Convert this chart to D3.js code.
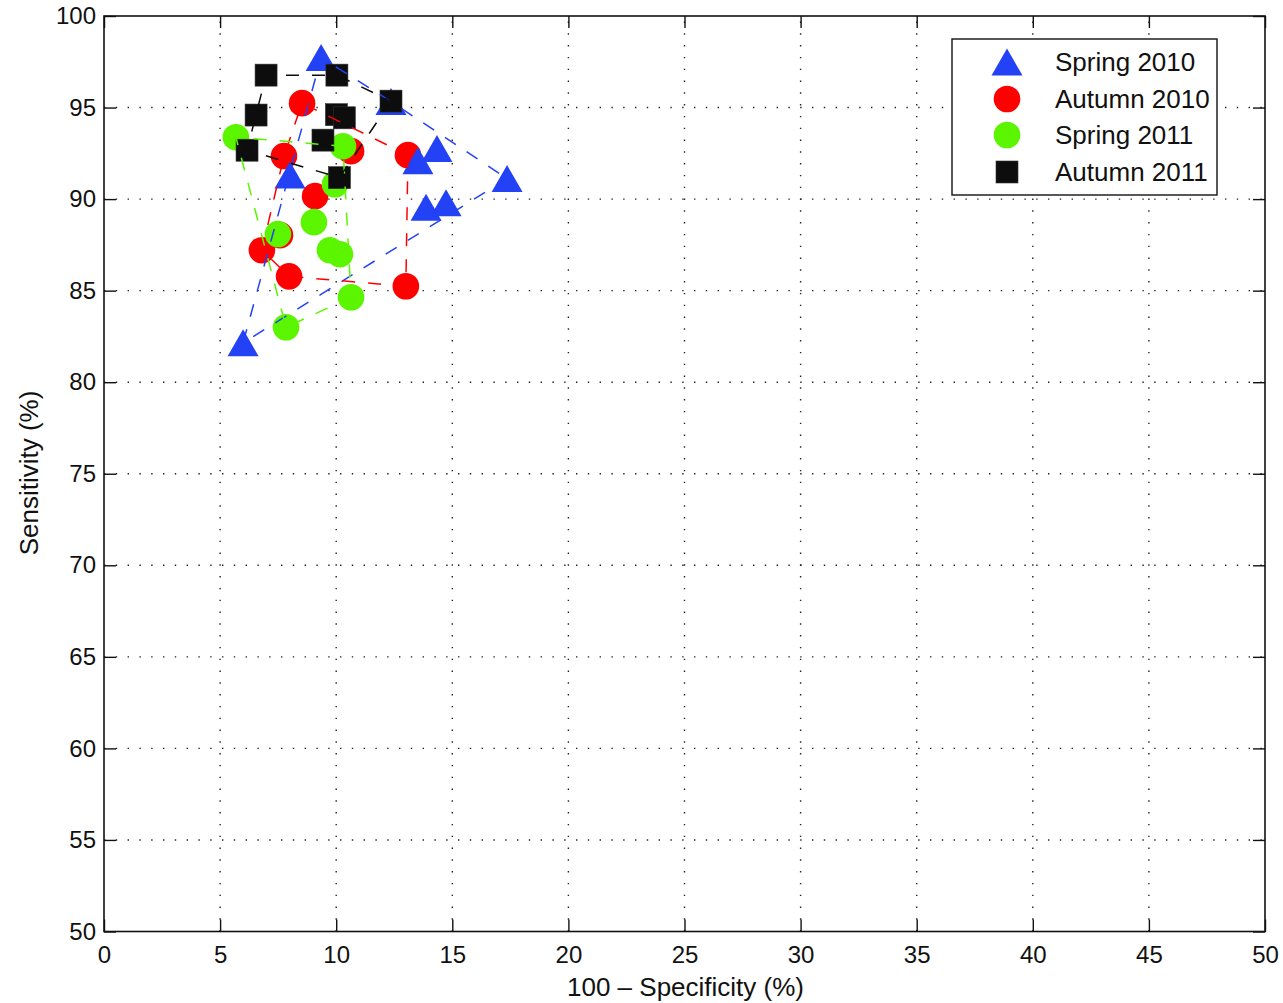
<!DOCTYPE html>
<html>
<head>
<meta charset="utf-8">
<script src="https://d3js.org/d3.v7.min.js"></script>
<style>
  body { margin: 0; background: #fff; }
  text { font-family: 'Liberation Sans', Arial, sans-serif; fill: #111; }
</style>
</head>
<body>
<div id="vis"></div>
<script>
  // series (x = 100 - specificity, y = sensitivity)
  var seriesNames = ['Spring 2010', 'Autumn 2010', 'Spring 2011', 'Autumn 2011'];

  var spring2010X = [9.35, 12.36, 14.34, 13.52, 17.36, 13.87, 14.73, 8.01, 5.99];
  var spring2010Y = [97.73, 95.33, 92.77, 92.1, 91.12, 89.56, 89.8, 91.31, 82.15];

  var autumn2010X = [8.53, 7.75, 10.64, 13.09, 9.09, 7.58, 6.8, 7.97, 13.0];
  var autumn2010Y = [95.24, 92.35, 92.62, 92.4, 90.16, 88.03, 87.21, 85.78, 85.24];

  var spring2011X = [5.68, 10.29, 9.95, 9.04, 7.49, 9.73, 10.16, 10.64, 7.84];
  var spring2011Y = [93.38, 92.89, 90.81, 88.74, 88.09, 87.21, 86.99, 84.64, 83.0];

  var autumn2011X = [6.98, 10.03, 12.36, 6.55, 10.01, 10.35, 9.43, 6.16, 10.14];
  var autumn2011Y = [96.77, 96.77, 95.35, 94.59, 94.61, 94.44, 93.22, 92.67, 91.17];

  var xTicks = [0, 5, 10, 15, 20, 25, 30, 35, 40, 45, 50];
  var yTicks = [50, 55, 60, 65, 70, 75, 80, 85, 90, 95, 100];

  var margin = { top: 16, right: 18, bottom: 71.5, left: 104 };
  var width = 1283 - margin.left - margin.right;
  var height = 1003 - margin.top - margin.bottom;

  var svg = d3.select('#vis')
    .append('svg')
    .attr('width', 1283)
    .attr('height', 1003)
    .append('g')
    .attr('transform', 'translate(' + margin.left + ',' + margin.top + ')');

  var x = d3.scaleLinear().domain([0, 50]).range([0, width]);
  var y = d3.scaleLinear().domain([50, 100]).range([height, 0]);

  // dotted grid
  svg.append('g')
    .selectAll('line')
    .data(xTicks.slice(1, -1))
    .enter().append('line')
    .attr('x1', d => x(d)).attr('x2', d => x(d))
    .attr('y1', height).attr('y2', 0)
    .attr('stroke', '#222').attr('stroke-width', 1.4)
    .attr('stroke-dasharray', '1.4,10.4');

  svg.append('g')
    .selectAll('line')
    .data(yTicks.slice(1, -1))
    .enter().append('line')
    .attr('y1', d => y(d)).attr('y2', d => y(d))
    .attr('x1', 0).attr('x2', width)
    .attr('stroke', '#222').attr('stroke-width', 1.4)
    .attr('stroke-dasharray', '1.4,10.4');

  // axes with inward ticks on all sides
  var tickLen = 12;
  var gx = svg.append('g')
    .attr('transform', 'translate(0,' + height + ')')
    .call(d3.axisBottom(x).tickValues(xTicks).tickSizeInner(-tickLen).tickSizeOuter(0));
  var gx2 = svg.append('g')
    .call(d3.axisTop(x).tickValues(xTicks).tickSizeInner(-tickLen).tickSizeOuter(0).tickFormat(''));
  var gy = svg.append('g')
    .call(d3.axisLeft(y).tickValues(yTicks).tickSizeInner(-tickLen).tickSizeOuter(0));
  var gy2 = svg.append('g')
    .attr('transform', 'translate(' + width + ',0)')
    .call(d3.axisRight(y).tickValues(yTicks).tickSizeInner(-tickLen).tickSizeOuter(0).tickFormat(''));

  [gx, gx2, gy, gy2].forEach(function(g) {
    g.select('.domain').remove();
    g.selectAll('.tick line').attr('stroke', '#111').attr('stroke-width', 1.4);
    g.selectAll('.tick text').style('font-size', '24px').attr('fill', '#111');
  });
  gx.selectAll('.tick text').attr('dy', '0.71em').attr('y', 14);
  gy.selectAll('.tick text').attr('x', -8);

  svg.append('rect')
    .attr('width', width).attr('height', height)
    .attr('fill', 'none').attr('stroke', '#111').attr('stroke-width', 1.6);

  // axis titles
  svg.append('text')
    .attr('x', width / 2 + 1)
    .attr('y', height + 64)
    .attr('text-anchor', 'middle')
    .style('font-size', '26px')
    .text('100 \u2013 Specificity (%)');

  svg.append('text')
    .attr('transform', 'rotate(-90)')
    .attr('x', -(473 - margin.top))
    .attr('y', 38 - margin.left)
    .attr('text-anchor', 'middle')
    .style('font-size', '26px')
    .text('Sensitivity (%)');

  var colors = ['#2342f5', '#ff0000', '#5cf500', '#0d0d0d'];
  var shapes = ['triangle', 'circle', 'circle', 'square'];
  var xs = [spring2010X, autumn2010X, spring2011X, autumn2011X];
  var ys = [spring2010Y, autumn2010Y, spring2011Y, autumn2011Y];

  function marker(g, shape, color) {
    if (shape === 'triangle') {
      g.append('path').attr('d', 'M0,-13.5L15.5,13.5L-15.5,13.5Z').attr('fill', color);
    } else if (shape === 'circle') {
      g.append('circle').attr('r', 13.3).attr('fill', color);
    } else {
      g.append('rect').attr('x', -11).attr('y', -11).attr('width', 22).attr('height', 22)
        .attr('fill', color).attr('stroke', '#333').attr('stroke-width', 0.6);
    }
  }

  // markers (red drawn beneath blue, matching overlap in the figure)
  var drawOrder = [1, 0, 2, 3];
  drawOrder.forEach(function(i) {
    var pts = xs[i].map(function(v, k) { return [v, ys[i][k]]; });
    svg.append('g').selectAll('g')
      .data(pts)
      .enter().append('g')
      .attr('transform', d => 'translate(' + x(d[0]) + ',' + y(d[1]) + ')')
      .each(function() { marker(d3.select(this), shapes[i], colors[i]); });
  });

  // dashed convex hulls
  var hullLine = d3.line().x(d => x(d[0])).y(d => y(d[1])).curve(d3.curveLinearClosed);
  [0, 1, 2, 3].forEach(function(i) {
    var pts = xs[i].map(function(v, k) { return [v, ys[i][k]]; });
    var hull = d3.polygonHull(pts);
    svg.append('path')
      .attr('d', hullLine(hull))
      .attr('fill', 'none')
      .attr('stroke', colors[i])
      .attr('stroke-width', 1.5)
      .attr('stroke-dasharray', '13,13');
  });

  // legend
  var lg = svg.append('g').attr('transform', 'translate(' + (952 - margin.left) + ',' + (39 - margin.top) + ')');
  lg.append('rect').attr('width', 265).attr('height', 156)
    .attr('fill', '#fff').attr('stroke', '#111').attr('stroke-width', 1.4);
  var rowY = [23, 60, 96, 133];
  seriesNames.forEach(function(name, i) {
    var row = lg.append('g').attr('transform', 'translate(0,' + rowY[i] + ')');
    var m = row.append('g').attr('transform', 'translate(55,0)');
    marker(m, shapes[i], colors[i]);
    row.append('text').attr('x', 103).attr('y', 0).attr('dy', '0.35em')
      .style('font-size', '26px').text(name);
  });
</script>
</body>
</html>
